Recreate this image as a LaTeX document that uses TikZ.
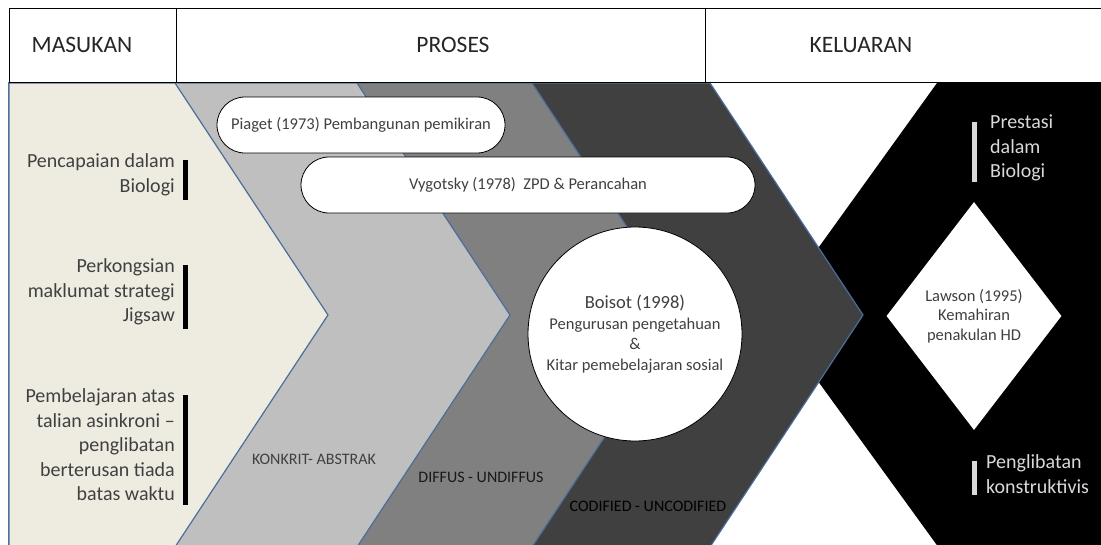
\documentclass[tikz,border=0pt]{standalone}
\usepackage{fontspec}
\setmainfont{Carlito}
\usepackage{xcolor}
\usepackage{tikz}
\usetikzlibrary{shapes.geometric}
\definecolor{beigec}{HTML}{EEECE1}
\definecolor{lgrayc}{HTML}{BFBFBF}
\definecolor{mgrayc}{HTML}{808080}
\definecolor{dgrayc}{HTML}{404040}
\definecolor{edgec}{HTML}{4A6E9A}
\definecolor{txtc}{HTML}{404040}
\definecolor{palec}{HTML}{D9D9D9}
\tikzset{
  chev/.style={draw=edgec,line width=1.2pt},
  hdrline/.style={draw=black,line width=1pt},
  hdrtxt/.style={inner sep=0pt,text=black!85,font=\fontsize{23.5}{28}\selectfont},
  lefttxt/.style={anchor=east,align=right,inner sep=0pt,text=txtc,font=\fontsize{20}{24.5}\selectfont},
  righttxt/.style={anchor=west,align=left,inner sep=0pt,text=palec,font=\fontsize{20}{24.5}\selectfont},
  leftbar/.style={draw=black,line width=5pt},
  rightbar/.style={draw=palec,line width=5pt},
  pill/.style={draw=black,fill=white,line width=0.8pt,rounded corners=28pt,minimum height=56pt,inner sep=0pt,text=txtc,font=\fontsize{16.5}{20}\selectfont},
  band/.style={inner sep=0pt,font=\fontsize{16}{18}\selectfont}
}
\begin{document}
\begin{tikzpicture}[x=1pt,y=-1pt]
\useasboundingbox (0,0) rectangle (1101,544);
\clip (0,0) rectangle (1101,544);
% keluaran background
\fill[black] (937,83) -- (1110,83) -- (1110,548) -- (939,548) -- (770,315) -- cycle;
% chevrons, back to front
\foreach \r/\c in {710/dgrayc,532/mgrayc,357/lgrayc,175/beigec}
  \draw[chev,fill=\c] (9,83) -- (\r,83) -- ({\r+153},315) -- (\r,547) -- (9,547) -- cycle;

\node[pill,minimum width=288pt] (piaget) at (361,125) {Piaget (1973) Pembangunan pemikiran};
\node[pill,minimum width=454pt] (vygotsky) at (528,185) {Vygotsky (1978)\ \ ZPD \& Perancahan};
\node[circle,draw=black,fill=white,line width=0.8pt,minimum size=214pt,inner sep=0pt,align=center,text=txtc,
  font=\fontsize{16.5}{20.5}\selectfont] (boisot) at (635,334)
  {{\fontsize{18.5}{20.5}\selectfont Boisot (1998)}\\Pengurusan pengetahuan\\\&\\Kitar pemebelajaran sosial};
\node[diamond,fill=white,minimum width=175pt,minimum height=228pt,inner sep=0pt,align=center,text=txtc,
  font=\fontsize{16.5}{19.5}\selectfont] (lawson) at (974,316) {Lawson (1995)\\Kemahiran\\penakulan HD};

% masukan
\node[lefttxt] (capai) at (175,175) {Pencapaian dalam\\Biologi};
\node[lefttxt] (kongsi) at (175,292) {Perkongsian\\maklumat strategi\\Jigsaw};
\node[lefttxt] (ajar) at (175,445) {Pembelajaran atas\\talian asinkroni --\\penglibatan\\berterusan tiada\\batas waktu};
\foreach \t in {capai,kongsi,ajar}
  \draw[leftbar] ([xshift=10pt,yshift=-6pt]\t.north east) -- ([xshift=10pt,yshift=-4pt]\t.south east);

% keluaran
\node[righttxt] (prestasi) at (990,148) {Prestasi\\dalam\\Biologi};
\node[righttxt] (libat) at (986,474) {Penglibatan\\konstruktivis};
\draw[rightbar] ([xshift=-16pt,yshift=-7pt]prestasi.north west) -- ([xshift=-16pt,yshift=-1pt]prestasi.south west);
\draw[rightbar] ([xshift=-12pt,yshift=-6pt]libat.north west) -- ([xshift=-12pt,yshift=-2pt]libat.south west);

\node[band,text=txtc] (konkrit) at (314,459) {KONKRIT- ABSTRAK};
\node[band,text=black!90] (diffus) at (481,477) {DIFFUS - UNDIFFUS};
\node[band,text=black] (codified) at (648,506) {CODIFIED - UNCODIFIED};

% header
\fill[white] (9,8) rectangle (1110,82);
\draw[hdrline] (9,82) -- (9,8) -- (1110,8) (9,82) -- (1110,82) (176,8) -- (176,82) (705,8) -- (705,82);
\node[hdrtxt] (masukan) at (82,45) {MASUKAN};
\node[hdrtxt] (proses) at (453,45) {PROSES};
\node[hdrtxt] (keluaran) at (861,45) {KELUARAN};
\end{tikzpicture}
\end{document}
